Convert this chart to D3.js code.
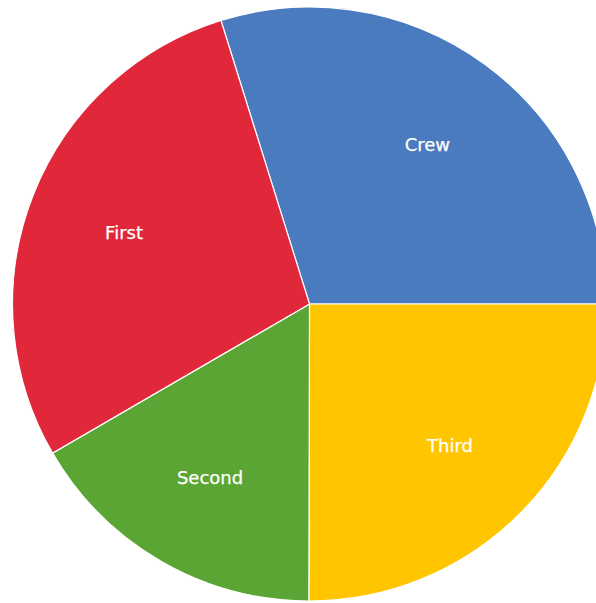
<!DOCTYPE html>
<html>
<head>
<meta charset="utf-8">
<script src="https://cdn.jsdelivr.net/npm/d3@7"></script>
<style>
  html, body { margin: 0; padding: 0; background: #fff; overflow: hidden; }
  svg { display: block; }
</style>
</head>
<body>
<svg id="chart" width="596" height="603"></svg>
<script>
// Titanic survivors by class
const categories = ["Crew", "Third", "Second", "First"];
const values = [212, 178, 118, 203];
const colors = ["#4A7BBF", "#FFC600", "#5BA534", "#E1283A"];

const width = 596, height = 603;
const cx = 309.5, cy = 304, radius = 297;

const data = categories.map((c, i) => ({ name: c, value: values[i], color: colors[i] }));

// Crew slice ends exactly at 3 o'clock, so rotate the pie start accordingly
const total = d3.sum(values);
const start = Math.PI / 2 - (values[0] / total) * 2 * Math.PI;

const pie = d3.pie()
  .sort(null)
  .value(d => d.value)
  .startAngle(start)
  .endAngle(start + 2 * Math.PI);

const arc = d3.arc().innerRadius(0).outerRadius(radius);
const labelArc = d3.arc().innerRadius(radius * 0.67).outerRadius(radius * 0.67);

const svg = d3.select("#chart");
const g = svg.append("g").attr("transform", `translate(${cx},${cy})`);

const arcs = pie(data);

g.selectAll("path.slice")
  .data(arcs)
  .join("path")
  .attr("class", "slice")
  .attr("d", arc)
  .attr("fill", d => d.data.color)
  .attr("stroke", "#fff")
  .attr("stroke-width", 1.2);

g.selectAll("text.label")
  .data(arcs)
  .join("text")
  .attr("class", "label")
  .attr("transform", d => `translate(${labelArc.centroid(d)})`)
  .attr("text-anchor", "middle")
  .attr("dy", "0.4em")
  .attr("fill", "#fff")
  .attr("stroke", "#fff")
  .attr("stroke-width", 0.25)
  .style("font-family", "'DejaVu Sans', Verdana, sans-serif")
  .style("font-size", "18px")
  .text(d => d.data.name);
</script>
</body>
</html>
